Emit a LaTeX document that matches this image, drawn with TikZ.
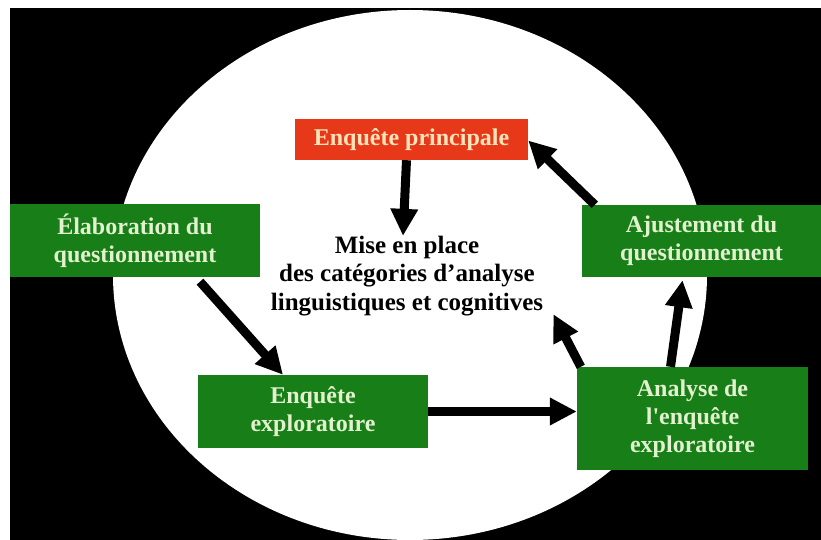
\documentclass[tikz,border=0pt]{standalone}
\usepackage{fontspec}
\setmainfont{Liberation Serif}
\usetikzlibrary{arrows.meta}
\definecolor{boxgreen}{RGB}{24,126,24}
\definecolor{boxred}{RGB}{232,56,26}
\definecolor{greentext}{RGB}{226,242,206}
\definecolor{redtext}{RGB}{255,228,186}
\tikzset{
  gbox/.style={rectangle, fill=boxgreen, text=greentext, align=center, inner sep=0pt,
    font=\bfseries\fontsize{24}{28}\selectfont},
  rbox/.style={rectangle, fill=boxred, text=redtext, align=center, inner sep=0pt,
    font=\bfseries\fontsize{24}{28}\selectfont},
  flow/.style={line width=9pt, black, -{Triangle[length=27pt,width=26pt]}}
}
\begin{document}
\begin{tikzpicture}[x=1pt,y=-1pt]
\useasboundingbox (0,0) rectangle (821,540);
\fill[white] (0,0) rectangle (821,540);
\fill[black] (10,8) rectangle (821,540);
\begin{scope}
\clip (10,8) rectangle (821,540);
\fill[white] (410,275) ellipse [x radius=297, y radius=265];
\end{scope}

\node[rbox, minimum width=233pt, minimum height=41pt] (red) at (411.5,139.5) {Enquête principale};
\node[gbox, minimum width=250pt, minimum height=73pt] (elab) at (135,240.5) {Élaboration du\\questionnement};
\node[gbox, minimum width=239pt, minimum height=72pt] (ajust) at (701.5,241) {Ajustement du\\questionnement};
\node[gbox, minimum width=230pt, minimum height=73pt] (expl) at (313,411.5) {Enquête\\exploratoire};
\node[gbox, minimum width=231pt, minimum height=103pt] (anal) at (692.5,418.5) {Analyse de\\l\textquotesingle enquête\\exploratoire};
\node[align=center, inner sep=0pt, font=\bfseries\fontsize{25}{28.5}\selectfont] (mise) at (407,276)
  {Mise en place\\des catégories d’analyse\\linguistiques et cognitives};

\draw[flow] ([xshift=-5pt]red.south) -- ([xshift=-4pt]mise.north);
\draw[flow, shorten <=6pt] ([xshift=61pt]elab.south) -- ([xshift=-30pt]expl.north);
\draw[flow] (expl.east) -- (anal.west |- expl.east);
\draw[flow] ([xshift=4pt]anal.north west) -- ([xshift=10pt,yshift=2pt]mise.south east);
\draw[flow] ([xshift=-22pt]anal.north) -- ([xshift=-19pt,yshift=-3pt]ajust.south);
\draw[flow] ([xshift=13pt]ajust.north west) -- ([yshift=-1pt]red.east);
\end{tikzpicture}
\end{document}
